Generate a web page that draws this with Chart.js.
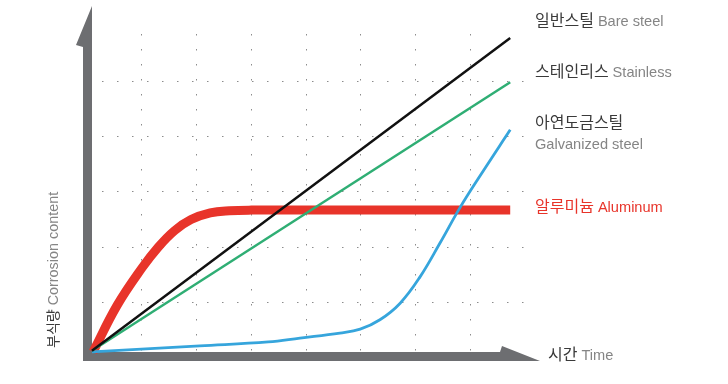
<!DOCTYPE html>
<html>
<head>
<meta charset="utf-8">
<script src="https://cdn.jsdelivr.net/npm/chart.js@4.4.1/dist/chart.umd.min.js"></script>
<style>
  html, body { margin: 0; padding: 0; background: #fff; }
  canvas { display: block; }
</style>
</head>
<body>
<canvas id="chart" width="728" height="384"></canvas>
<script>
// grid positions (no tick labels are shown)
const xGrid = [1, 2, 3, 4, 5, 6, 7];
const yGrid = [1, 2, 3, 4, 5];

// series names
const namesKo = ['일반스틸', '스테인리스', '아연도금스틸', '알루미늄'];
const namesEn = ['Bare steel', 'Stainless', 'Galvanized steel', 'Aluminum'];

// values (time vs corrosion, arbitrary units)
const bareX = [0.09, 7.73];
const bareY = [0.13, 5.78];
const stainX = [0.09, 7.73];
const stainY = [0.13, 4.98];
const galvX = [0.09, 2.06, 3.31, 3.89, 4.62, 4.99, 5.35, 5.72, 6.08, 6.45, 6.81, 7.18, 7.73];
const galvY = [0.11, 0.22, 0.29, 0.36, 0.45, 0.52, 0.69, 0.99, 1.46, 2.08, 2.71, 3.29, 4.12];
const aluX = [0.11, 0.55, 1.0, 1.3, 1.6, 1.9, 2.25, 2.6, 3.0, 7.73];
const aluY = [0.11, 0.95, 1.62, 2.0, 2.3, 2.5, 2.62, 2.66, 2.67, 2.67];

const colors = ['#111111', '#2fae74', '#36a5dc', '#e8342a'];
const axisGray = '#6d6e71';

function pairs(xs, ys) {
    return xs.map((x, i) => ({ x: x, y: ys[i] }));
}

// thick grey axes with half arrow heads, drawn under the lines
const axesPlugin = {
    id: 'axes',
    beforeDatasetsDraw(chart) {
        const ctx = chart.ctx;
        const a = chart.chartArea;
        const l = a.left, b = a.bottom;
        ctx.save();
        ctx.fillStyle = axisGray;
        // y axis
        ctx.beginPath();
        ctx.moveTo(l + 5, 6);
        ctx.lineTo(l - 11, 45);
        ctx.lineTo(l - 4, 47);
        ctx.lineTo(l - 4, b + 3);
        ctx.lineTo(l + 5, b + 3);
        ctx.closePath();
        ctx.fill();
        // x axis
        ctx.beginPath();
        ctx.moveTo(l - 4, b - 6);
        ctx.lineTo(500, b - 6);
        ctx.lineTo(502, b - 12);
        ctx.lineTo(540, b + 3);
        ctx.lineTo(l - 4, b + 3);
        ctx.closePath();
        ctx.fill();
        ctx.restore();
    }
};

// series names at the line ends and axis titles
const labelsPlugin = {
    id: 'labels',
    afterDraw(chart) {
        const ctx = chart.ctx;
        const ko = '16px "Noto Sans CJK KR"';
        const en = '14.6px "Liberation Sans", Arial, sans-serif';
        const koColor = '#3a3a3a';
        const enColor = '#858585';
        ctx.save();
        ctx.textBaseline = 'alphabetic';

        function pair(k, e, x, y, kc, ec) {
            ctx.font = ko;
            ctx.fillStyle = kc;
            ctx.fillText(k, x, y);
            const w = ctx.measureText(k).width;
            ctx.font = en;
            ctx.fillStyle = ec;
            ctx.fillText(e, x + w + 4, y);
        }

        pair(namesKo[0], namesEn[0], 535, 26, koColor, enColor);
        pair(namesKo[1], namesEn[1], 535, 77, koColor, enColor);
        ctx.font = ko;
        ctx.fillStyle = koColor;
        ctx.fillText(namesKo[2], 535, 128);
        ctx.font = en;
        ctx.fillStyle = enColor;
        ctx.fillText(namesEn[2], 535, 149);
        pair(namesKo[3], namesEn[3], 535, 212, colors[3], colors[3]);

        // x title
        pair('시간', 'Time', 548, 360, koColor, enColor);

        // y title, rotated
        ctx.translate(58, 348);
        ctx.rotate(-Math.PI / 2);
        ctx.font = '14px "Noto Sans CJK KR"';
        ctx.fillStyle = koColor;
        ctx.fillText('부식량', 0, 0);
        const w = ctx.measureText('부식량').width;
        ctx.font = '14.4px "Liberation Sans", Arial, sans-serif';
        ctx.fillStyle = enColor;
        ctx.fillText('Corrosion content', w + 4, 0);
        ctx.restore();
    }
};

const gridOpts = {
    color: '#8c8c8c',
    lineWidth: 1,
    drawTicks: false
};

new Chart(document.getElementById('chart').getContext('2d'), {
    type: 'line',
    data: {
        datasets: [
            { data: pairs(bareX, bareY), borderColor: colors[0], borderWidth: 2.5 },
            { data: pairs(stainX, stainY), borderColor: colors[1], borderWidth: 2.5 },
            { data: pairs(galvX, galvY), borderColor: colors[2], borderWidth: 2.8, tension: 0.4 },
            { data: pairs(aluX, aluY), borderColor: colors[3], borderWidth: 9, tension: 0.4, borderCapStyle: 'butt', borderJoinStyle: 'round' }
        ]
    },
    options: {
        responsive: false,
        animation: false,
        layout: { padding: { left: 87, right: 203, top: 34, bottom: 26 } },
        elements: { point: { radius: 0 }, line: { fill: false } },
        plugins: { legend: { display: false }, tooltip: { enabled: false } },
        scales: {
            x: {
                type: 'linear',
                min: 0,
                max: 8,
                ticks: { display: false },
                grid: gridOpts,
                border: { display: false, dash: [1.5, 13.5] },
                afterBuildTicks: (s) => { s.ticks = xGrid.map(v => ({ value: v })); }
            },
            y: {
                min: 0,
                max: 5.85,
                ticks: { display: false },
                grid: gridOpts,
                border: { display: false, dash: [1.5, 13.5] },
                afterBuildTicks: (s) => { s.ticks = yGrid.map(v => ({ value: v })); }
            }
        }
    },
    plugins: [axesPlugin, labelsPlugin]
});
</script>
</body>
</html>
